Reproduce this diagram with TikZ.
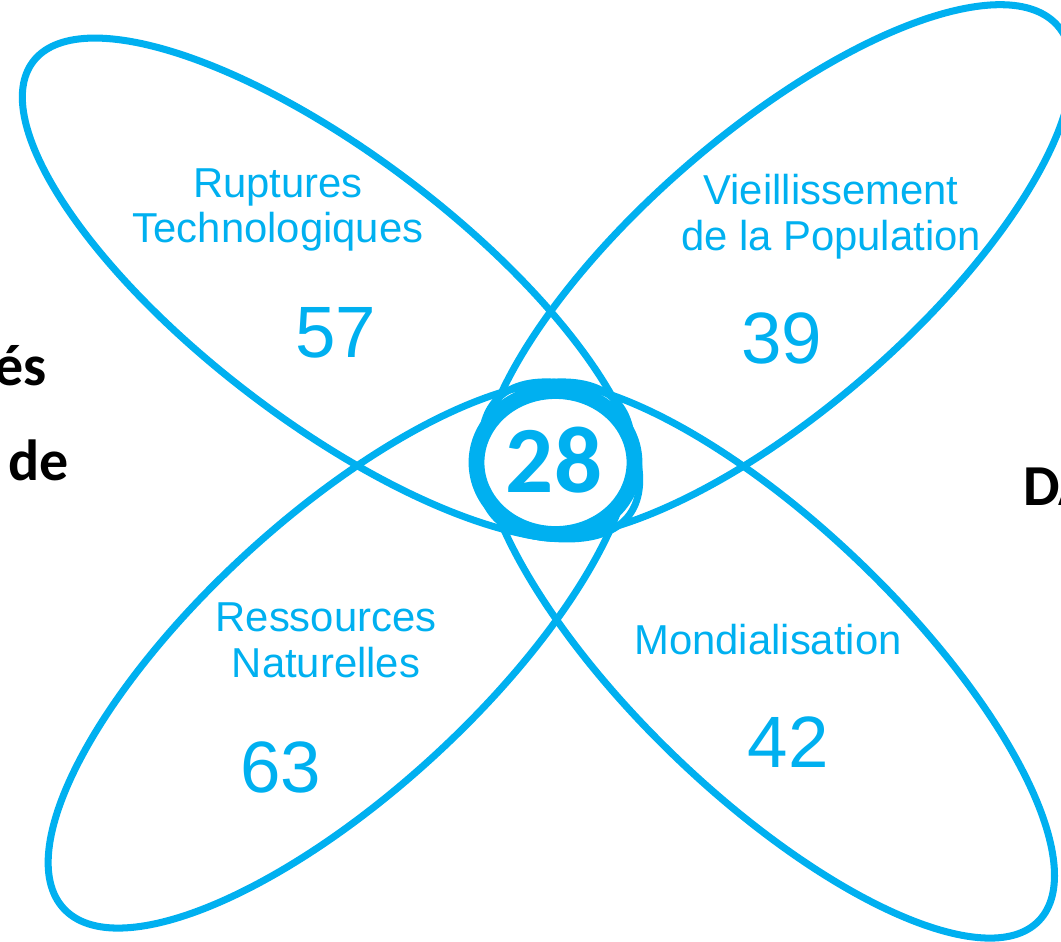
\documentclass[tikz,border=0pt]{standalone}
\usepackage{fontspec}
\setmainfont{Liberation Sans}
\newfontfamily\calib{Carlito}
\definecolor{sky}{RGB}{0,176,240}
\begin{document}
\begin{tikzpicture}[x=0.02cm,y=-0.02cm,
  ell/.style={draw=sky, line width=4pt},
  ringst/.style={draw=sky, line width=9pt, fill=white},
  lbl/.style={text=sky, font=\fontsize{23.8}{28}\selectfont, inner sep=0pt, anchor=base},
  num/.style={text=sky, font=\fontsize{41.4}{48}\selectfont, inner sep=0pt, anchor=base},
  blk/.style={text=black, font=\calib\bfseries\fontsize{33}{40}\selectfont, inner sep=0pt}]
\useasboundingbox (0,0) rectangle (1061,941);
\clip (0,0) rectangle (1061,941);
% four ellipses
\draw[ell, rotate around={-37.3:(331,288.5)}] (331,288.5) ellipse [x radius=374.5, y radius=133];
\draw[ell, rotate around={41:(776,271)}] (776,271) ellipse [x radius=373.5, y radius=138];
\draw[ell, rotate around={42.5:(340,655)}] (340,655) ellipse [x radius=375, y radius=138];
\draw[ell, rotate around={-43.9:(768,660)}] (768,660) ellipse [x radius=376, y radius=134];
% centre ring
\draw[ringst] (555.5,462.5) ellipse [x radius=79, y radius=71.5];
% labels
\node[lbl] (rupt1) at (278,197) {Ruptures};
\node[lbl] (rupt2) at (278,242) {Technologiques};
\node[num] (n57) at (336,357) {57};
\node[lbl] (viei1) at (831,204) {Vieillissement};
\node[lbl] (viei2) at (831,250) {de la Population};
\node[num] (n39) at (782,363) {39};
\node[lbl] (ress1) at (326,631) {Ressources};
\node[lbl] (ress2) at (326,677) {Naturelles};
\node[num] (n63) at (281,792) {63};
\node[lbl] (mond) at (768,654) {Mondialisation};
\node[num] (n42) at (788,767) {42};
\node[text=sky, font=\calib\bfseries\fontsize{54}{60}\selectfont, inner sep=0pt, anchor=base] (n28) at (554,492) {28};
% cut-off side texts
\node[blk, anchor=base east] (es) at (47,385) {és};
\node[blk, anchor=base west] (de) at (8,480) {de};
\node[blk, anchor=base west] (da) at (1023,505) {DA};
\end{tikzpicture}
\end{document}
